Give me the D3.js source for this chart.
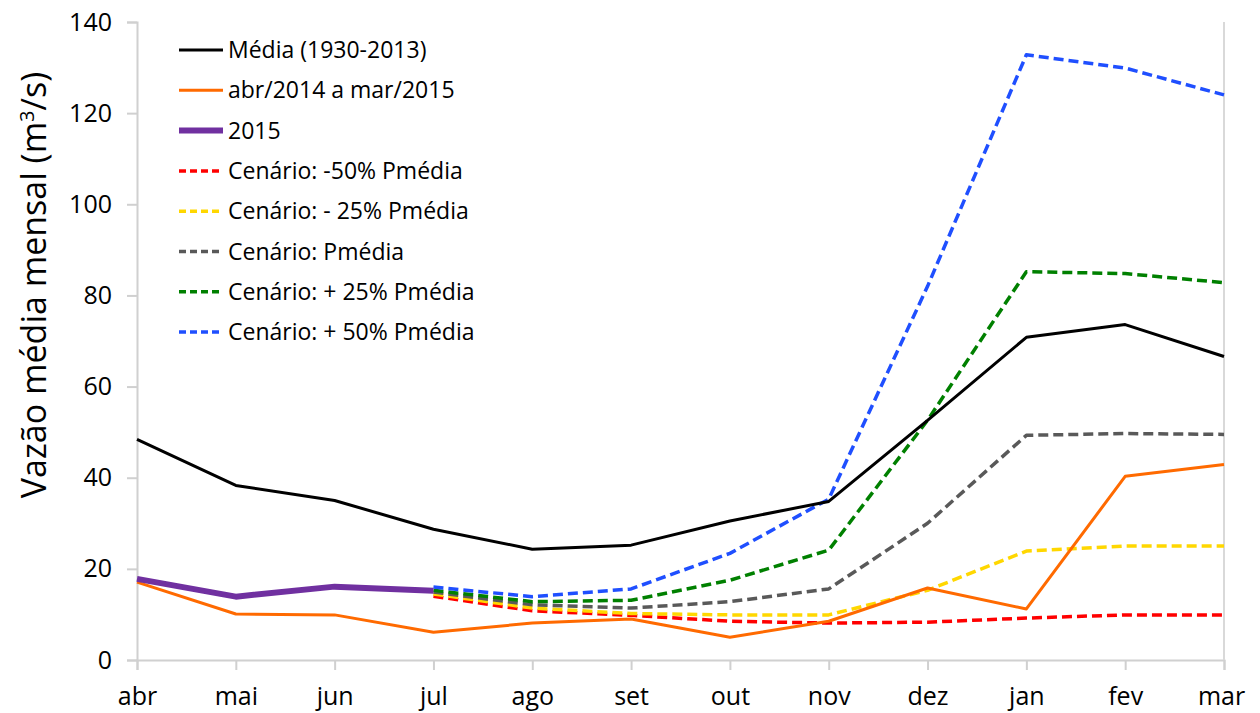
<!DOCTYPE html>
<html>
<head>
<meta charset="utf-8">
<script src="https://cdn.jsdelivr.net/npm/d3@7"></script>
<style>
  body { margin: 0; background: #fff; }
  svg text { font-family: "Open Sans", sans-serif; fill: #000; }
</style>
</head>
<body>
<svg id="chart"></svg>
<script>
const months = ['abr', 'mai', 'jun', 'jul', 'ago', 'set', 'out', 'nov', 'dez', 'jan', 'fev', 'mar'];
const yTicks = [0, 20, 40, 60, 80, 100, 120, 140];

// series values (m3/s), null where a series has no point
const media = [48.4, 38.3, 35.0, 28.7, 24.3, 25.2, 30.5, 34.8, 52.6, 70.8, 73.6, 66.6];
const abr2014 = [17.1, 10.1, 9.9, 6.1, 8.1, 9.0, 5.0, 8.5, 15.8, 11.2, 40.3, 42.9];
const ano2015 = [17.8, 13.9, 16.1, 15.2, null, null, null, null, null, null, null, null];
const cenMenos50 = [null, null, null, 14.0, 10.8, 9.8, 8.5, 8.1, 8.3, 9.2, 9.9, 9.9];
const cenMenos25 = [null, null, null, 14.5, 11.4, 10.2, 9.9, 9.9, 15.3, 23.9, 25.0, 25.0];
const cenMedia = [null, null, null, 14.9, 12.1, 11.4, 12.8, 15.6, 30.0, 49.3, 49.7, 49.5];
const cenMais25 = [null, null, null, 15.3, 12.8, 13.1, 17.5, 24.1, 52.6, 85.2, 84.8, 82.8];
const cenMais50 = [null, null, null, 16.0, 13.9, 15.6, 23.4, 35.3, 82.0, 132.8, 129.9, 124.0];

const series = [
  { name: 'Média (1930-2013)', values: media, color: '#000000', width: 3, dash: null },
  { name: 'abr/2014 a mar/2015', values: abr2014, color: '#ff6a00', width: 3, dash: null },
  { name: '2015', values: ano2015, color: '#7030a0', width: 6, dash: null },
  { name: 'Cenário: -50% Pmédia', values: cenMenos50, color: '#ff0000', width: 3.5, dash: '10,5' },
  { name: 'Cenário: - 25% Pmédia', values: cenMenos25, color: '#ffd700', width: 3.5, dash: '10,5' },
  { name: 'Cenário: Pmédia', values: cenMedia, color: '#595959', width: 3.5, dash: '10,5' },
  { name: 'Cenário: + 25% Pmédia', values: cenMais25, color: '#008000', width: 3.5, dash: '10,5' },
  { name: 'Cenário: + 50% Pmédia', values: cenMais50, color: '#1f4fff', width: 3.5, dash: '10,5' }
];

const width = 1260, height = 713;
const margin = { top: 22, right: 36, bottom: 53, left: 137 };

const svg = d3.select('#chart')
  .attr('width', width)
  .attr('height', height);

const x = d3.scalePoint()
  .domain(months)
  .range([margin.left, width - margin.right]);

const y = d3.scaleLinear()
  .domain([0, 140])
  .range([height - margin.bottom, margin.top]);

// y axis
const yAxis = svg.append('g')
  .attr('transform', `translate(${margin.left},0)`)
  .call(d3.axisLeft(y).tickValues(yTicks).tickSize(10).tickPadding(15));
yAxis.selectAll('text').style('font-size', '25px');

// x axis
const xAxis = svg.append('g')
  .attr('transform', `translate(0,${height - margin.bottom})`)
  .call(d3.axisBottom(x).tickSize(10).tickPadding(17));
xAxis.selectAll('text').style('font-size', '25px');
xAxis.selectAll('.tick:last-of-type text').attr('dx', -3);

svg.selectAll('.domain, .tick line')
  .attr('stroke', '#d0d0d0')
  .attr('stroke-width', 2);

// right border line
svg.append('line')
  .attr('x1', width - margin.right).attr('x2', width - margin.right)
  .attr('y1', y(140)).attr('y2', y(0))
  .attr('stroke', '#d9d9d9')
  .attr('stroke-width', 2);

// y title
svg.append('text')
  .attr('transform', `translate(46,${(y(0) + y(140)) / 2 - 56}) rotate(-90)`)
  .attr('text-anchor', 'middle')
  .style('font-size', '34px')
  .text('Vazão média mensal (m')
  .append('tspan')
    .attr('dy', -12)
    .style('font-size', '20px')
    .text('3')
  .select(function() { return this.parentNode; })
  .append('tspan')
    .attr('dy', 12)
    .text('/s)');

const line = d3.line()
  .defined(d => d.v !== null)
  .x(d => x(d.m))
  .y(d => y(d.v));

// draw scenarios first, then observed lines on top
const order = [3, 4, 5, 6, 7, 1, 0, 2];
svg.append('g')
  .selectAll('path')
  .data(order.map(i => series[i]))
  .join('path')
    .attr('fill', 'none')
    .attr('stroke', d => d.color)
    .attr('stroke-width', d => d.width)
    .attr('stroke-dasharray', d => d.dash)
    .attr('stroke-linejoin', 'round')
    .attr('d', d => line(d.values.map((v, i) => ({ m: months[i], v: v }))));

// legend
const legend = svg.append('g')
  .attr('transform', 'translate(179,50)');

const rows = legend.selectAll('g')
  .data(series)
  .join('g')
    .attr('transform', (d, i) => `translate(0,${i * 40.3})`);

rows.append('line')
  .attr('x1', 0).attr('x2', 44)
  .attr('stroke', d => d.color)
  .attr('stroke-width', d => d.width)
  .attr('stroke-dasharray', d => d.dash ? '7,4' : null);

rows.append('text')
  .attr('x', 49)
  .attr('dy', '0.35em')
  .style('font-size', '23px')
  .text(d => d.name);
</script>
</body>
</html>
